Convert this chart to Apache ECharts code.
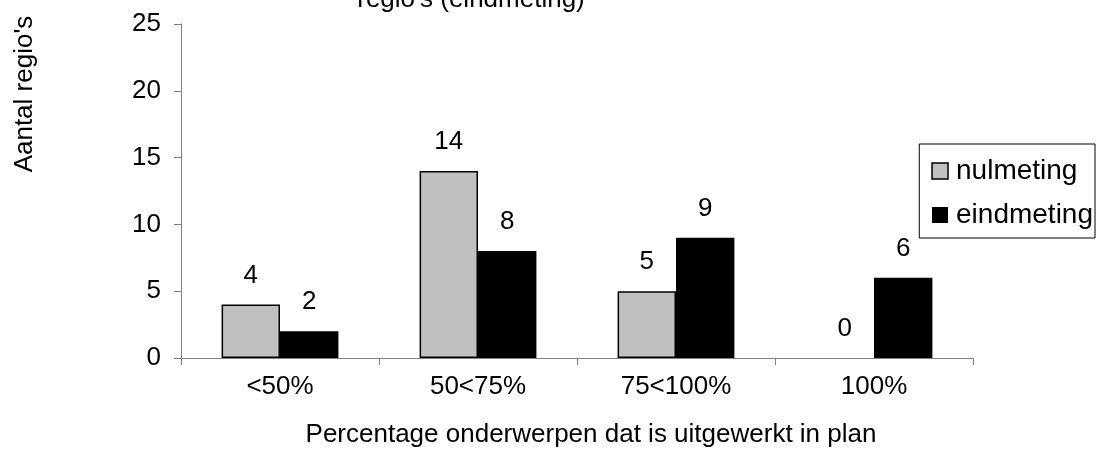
<!DOCTYPE html>
<html>
<head>
<meta charset="utf-8">
<script src="https://cdn.jsdelivr.net/npm/echarts@6/dist/echarts.min.js"></script>
<style>
  html, body { margin: 0; padding: 0; background: #fff; }
  #chart { width: 1097px; height: 464px; }
</style>
</head>
<body>
<div id="chart"></div>
<script>
var categories = ['<50%', '50<75%', '75<100%', '100%'];
var nulmeting = [4, 14, 5, 0];
var eindmeting = [2, 8, 9, 6];
var yTicks = [0, 5, 10, 15, 20, 25];

var font = 'Liberation Sans, Arial, sans-serif';
var fs = 26;
var chart = echarts.init(document.getElementById('chart'));

var labelStyle = {
  show: true,
  position: 'top',
  distance: 16,
  color: '#000',
  fontFamily: font,
  fontSize: fs
};

// een waarde 0 krijgt geen rand, anders staat er een streepje op de as
function toItems(arr) {
  return arr.map(function (v) {
    return v === 0 ? { value: v, itemStyle: { borderWidth: 0 } } : v;
  });
}

var option = {
  animation: false,
  title: {
    text: "regio's (eindmeting)",
    left: 466,
    top: -18,
    textAlign: 'center',
    textStyle: { color: '#000', fontFamily: font, fontSize: fs, fontWeight: 'normal' }
  },
  graphic: [{
    type: 'text',
    x: 25,
    y: 94,
    rotation: Math.PI / 2,
    style: {
      text: "Aantal regio's",
      fill: '#000',
      font: fs + 'px ' + font,
      align: 'center',
      verticalAlign: 'middle'
    }
  }],
  legend: {
    orient: 'vertical',
    right: 2,
    top: 144,
    padding: [13, 2, 9, 12],
    itemGap: 16,
    itemWidth: 16,
    itemHeight: 16,
    borderColor: '#000',
    borderWidth: 1,
    borderRadius: 0,
    textStyle: { color: '#000', fontFamily: font, fontSize: 28, padding: [0, 0, 0, 3] },
    data: [
      { name: 'nulmeting', icon: 'rect', itemStyle: { color: '#c0c0c0', borderColor: '#000', borderWidth: 1.5 } },
      { name: 'eindmeting', icon: 'rect' }
    ]
  },
  grid: { left: 181, right: 124, top: 24, bottom: 106 },
  xAxis: {
    type: 'category',
    data: categories,
    name: 'Percentage onderwerpen dat is uitgewerkt in plan',
    nameLocation: 'middle',
    nameGap: 64,
    nameTextStyle: { color: '#000', fontFamily: font, fontSize: fs, padding: [0, 0, 0, 28] },
    axisLine: { lineStyle: { color: '#808080', width: 1 } },
    axisTick: { show: true, length: 7, alignWithLabel: false, lineStyle: { color: '#808080' } },
    axisLabel: { color: '#000', fontFamily: font, fontSize: fs, margin: 16 },
    splitLine: { show: false }
  },
  yAxis: {
    type: 'value',
    min: yTicks[0],
    max: yTicks[yTicks.length - 1],
    interval: 5,
    axisLine: { show: true, lineStyle: { color: '#808080', width: 1 } },
    axisTick: { show: true, length: 7, lineStyle: { color: '#808080' } },
    axisLabel: { color: '#000', fontFamily: font, fontSize: fs, margin: 20 },
    splitLine: { show: false }
  },
  series: [{
    name: 'nulmeting',
    type: 'bar',
    data: toItems(nulmeting),
    barGap: '0%',
    barCategoryGap: '41%',
    itemStyle: { color: '#c0c0c0', borderColor: '#000', borderWidth: 1.5 },
    label: labelStyle
  }, {
    name: 'eindmeting',
    type: 'bar',
    data: eindmeting,
    itemStyle: { color: '#000' },
    label: labelStyle
  }]
};

chart.setOption(option);
</script>
</body>
</html>
